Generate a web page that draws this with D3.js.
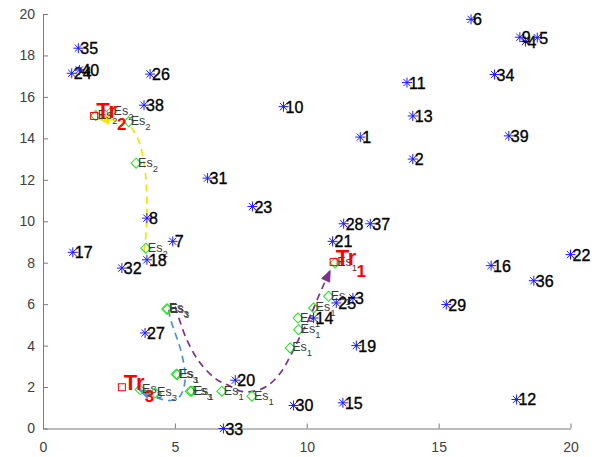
<!DOCTYPE html>
<html>
<head>
<meta charset="utf-8">
<script src="https://cdn.jsdelivr.net/npm/d3@7"></script>
<style>
  html, body { margin: 0; padding: 0; background: #fff; }
  svg { display: block; font-family: "Liberation Sans", Arial, Helvetica, sans-serif; }
</style>
</head>
<body>
<svg id="chart" width="599" height="457"></svg>
<script>
// Numbered nodes (blue asterisks)
const nodeIds = [1,2,3,4,5,6,7,8,9,10,11,12,13,14,15,16,17,18,19,20,
                 21,22,23,24,25,26,27,28,29,30,31,32,33,34,35,36,37,38,39,40];
const nodeX = [12.03,14.02,11.75,18.29,18.74,16.23,4.92,3.94,18.08,9.12,
               13.80,17.95,14.02,10.26,11.37,16.99,1.13,3.94,11.88,7.29,
               10.98,20.00,7.94,1.09,11.12,4.06,3.87,11.40,15.29,9.50,
               6.24,2.99,6.84,17.12,1.34,18.61,12.41,3.83,17.66,1.38];
const nodeY = [14.06,13.00,6.30,18.67,18.86,19.74,9.03,10.15,18.88,15.53,
               16.69,1.40,15.08,5.33,1.24,7.86,8.50,8.14,4.00,2.33,
               9.03,8.39,10.71,17.14,6.06,17.10,4.61,9.88,5.98,1.11,
               12.08,7.74,0.00,17.08,18.35,7.13,9.88,15.60,14.12,17.30];

// Estimated points (green diamonds), subscript = trajectory index
const esX = [2.00,2.60,3.25,3.53,3.90,
             3.68,4.25,5.58,5.05,4.69,4.72,
             5.09,5.64,6.78,7.92,9.37,9.69,9.67,10.26,10.83,11.08];
const esY = [15.10,15.30,14.80,12.80,8.70,
             1.88,1.72,1.80,2.62,5.77,5.76,
             2.60,1.80,1.80,1.56,3.89,4.77,5.33,5.82,6.38,7.99];
const esSub = ["2","2","2","2","2",
               "3","3","3","3","3","3",
               "1","1","1","1","1","1","1","1","1","1"];

// Trajectory start squares and labels
const trX = [11.02, 1.94, 2.99];
const trY = [8.03, 15.08, 1.99];
const trSub = ["1","2","3"];

// Trajectory paths (dashed, arrow at the end)
const path1X = [5.01,5.45,5.96,6.59,7.10,7.48,7.98,8.49,9.00,9.37,9.75,10.13,10.45,10.70,10.89];
const path1Y = [5.89,4.29,3.16,2.36,2.04,1.80,1.80,2.04,2.68,3.48,4.45,5.41,6.38,7.10,7.63];
const path2X = [3.84,3.92,3.94,3.91,3.86,3.75,3.56,3.30,2.99,2.61,2.10];
const path2Y = [8.54,9.67,10.80,11.92,12.56,13.36,14.09,14.57,14.81,14.89,14.94];
const path3X = [4.76,4.82,5.01,5.20,5.32,5.39,5.32,5.14,4.82,4.44,4.12,3.64];
const path3Y = [5.73,5.33,4.61,3.89,3.24,2.52,1.88,1.48,1.35,1.43,1.59,1.86];
const pathColors = ["#7e2f8e", "#f2e600", "#4a93d6"];

const xTicks = [0,5,10,15,20];
const yTicks = [0,2,4,6,8,10,12,14,16,18,20];

const svg = d3.select("#chart");
const x = d3.scaleLinear().domain([0,20]).range([43,570.5]);
const y = d3.scaleLinear().domain([0,20]).range([428.5,14]);

// Axes (MATLAB-like: inward ticks, no box)
const axisColor = "#7a7a7a";
const gx = svg.append("g").attr("transform", `translate(0,${y(0)})`)
  .call(d3.axisBottom(x).tickValues(xTicks).tickSizeInner(-5).tickSizeOuter(0).tickPadding(14));
const gy = svg.append("g").attr("transform", `translate(${x(0)},0)`)
  .call(d3.axisLeft(y).tickValues(yTicks).tickSizeInner(-5).tickSizeOuter(0).tickPadding(8));
[gx, gy].forEach(g => {
  g.select(".domain").attr("stroke", axisColor).attr("stroke-width", 1);
  g.selectAll(".tick line").attr("stroke", axisColor);
  g.selectAll(".tick text").attr("fill", "#404040").attr("font-size", 14)
    .attr("font-family", "'Liberation Sans', Arial, sans-serif");
});

// Dashed trajectories with arrowheads
const line = d3.line().x(d => x(d[0])).y(d => y(d[1])).curve(d3.curveCatmullRom.alpha(0.5));
const paths = [
  d3.zip(path1X, path1Y),
  d3.zip(path2X, path2Y),
  d3.zip(path3X, path3Y)
];
paths.forEach((pts, i) => {
  svg.append("path").attr("d", line(pts))
    .attr("fill", "none").attr("stroke", pathColors[i])
    .attr("stroke-width", 1.7).attr("stroke-dasharray", "7,5");
  const a = pts[pts.length-2], b = pts[pts.length-1];
  const ax = x(a[0]), ay = y(a[1]), bx = x(b[0]), by = y(b[1]);
  const ang = Math.atan2(by - ay, bx - ax);
  const L = 11, W = 4.5;
  const p1 = [bx, by];
  const p2 = [bx - L*Math.cos(ang) + W*Math.sin(ang), by - L*Math.sin(ang) - W*Math.cos(ang)];
  const p3 = [bx - L*Math.cos(ang) - W*Math.sin(ang), by - L*Math.sin(ang) + W*Math.cos(ang)];
  svg.append("polygon").attr("points", [p1,p2,p3].map(p => p.join(",")).join(" "))
    .attr("fill", pathColors[i]).attr("stroke", pathColors[i]).attr("stroke-width", 0.8);
});

// Estimated points: green diamonds with "Es_k" labels
const esData = esX.map((v, i) => ({x: v, y: esY[i], s: esSub[i]}));
const esG = svg.append("g");
esData.forEach(d => {
  const cx = x(d.x), cy = y(d.y), r = 5;
  esG.append("path")
    .attr("d", `M${cx},${cy-r}L${cx+r},${cy}L${cx},${cy+r}L${cx-r},${cy}Z`)
    .attr("fill", "none").attr("stroke", "#2fe02f").attr("stroke-width", 1.1);
  const t = esG.append("text").attr("x", cx + 2).attr("y", cy + 3.5)
    .attr("fill", "#3a3a3a").attr("font-size", 12.5);
  t.append("tspan").text("Es");
  t.append("tspan").attr("dy", 5).attr("font-size", 9.5).text(d.s);
});

// Numbered nodes: blue asterisks with black labels
const nodeData = nodeIds.map((id, i) => ({id, x: nodeX[i], y: nodeY[i]}));
const ng = svg.append("g");
nodeData.forEach(d => {
  const cx = x(d.x), cy = y(d.y), r = 5, q = 3.6;
  const segs = [[cx-r,cy,cx+r,cy],[cx,cy-r,cx,cy+r],[cx-q,cy-q,cx+q,cy+q],[cx-q,cy+q,cx+q,cy-q]];
  segs.forEach(s => ng.append("line")
    .attr("x1", s[0]).attr("y1", s[1]).attr("x2", s[2]).attr("y2", s[3])
    .attr("stroke", "#1a1aff").attr("stroke-width", 1));
  ng.append("text").attr("x", cx + 2).attr("y", cy + 6)
    .attr("fill", "#000").attr("font-size", 16)
    .attr("stroke", "#000").attr("stroke-width", 0.35).text(d.id);
});

// Trajectory start squares and red "Tr_k" labels
const trG = svg.append("g");
trX.forEach((v, i) => {
  const cx = x(v), cy = y(trY[i]);
  trG.append("rect").attr("x", cx - 3.5).attr("y", cy - 3.5).attr("width", 7).attr("height", 7)
    .attr("fill", "none").attr("stroke", "#ff0000").attr("stroke-width", 1);
  const t = trG.append("text").attr("x", cx + 2).attr("y", cy + 2.5)
    .attr("fill", "#ff0000").attr("font-size", 22).attr("font-weight", "bold");
  t.append("tspan").text("Tr");
  t.append("tspan").attr("dy", 12).attr("font-size", 17).text(trSub[i]);
});
</script>
</body>
</html>
